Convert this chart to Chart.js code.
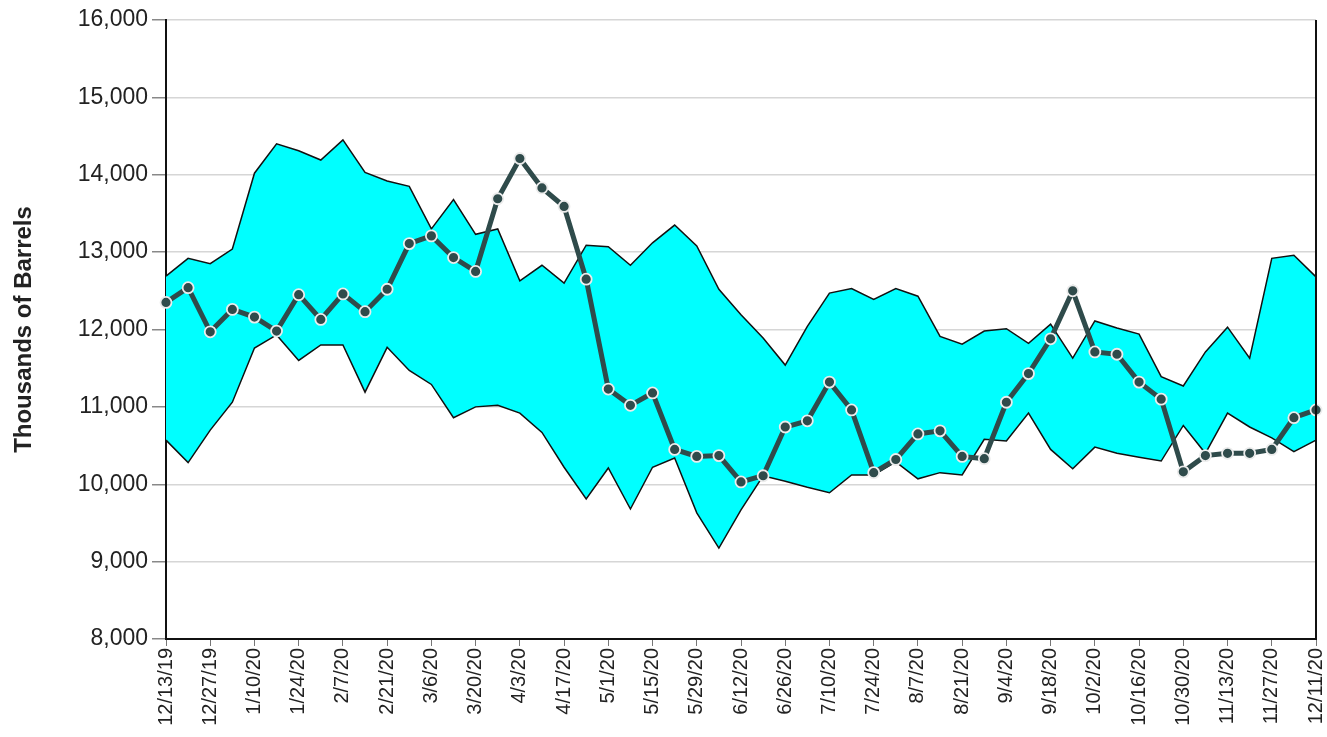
<!DOCTYPE html>
<html>
<head>
<meta charset="utf-8">
<script src="https://cdn.jsdelivr.net/npm/chart.js@4/dist/chart.umd.min.js"></script>
<style>
  html, body { margin: 0; padding: 0; background: #fff; }
  #wrap { width: 1327px; height: 737px; }
</style>
</head>
<body>
<div id="wrap"><canvas id="myChart" width="1327" height="737"></canvas></div>
<script>
// weekly dates, 12/13/19 - 12/11/20
const weeks = ['12/13/19','12/20/19','12/27/19','1/3/20','1/10/20','1/17/20','1/24/20','1/31/20','2/7/20','2/14/20','2/21/20','2/28/20','3/6/20','3/13/20','3/20/20','3/27/20','4/3/20','4/10/20','4/17/20','4/24/20','5/1/20','5/8/20','5/15/20','5/22/20','5/29/20','6/5/20','6/12/20','6/19/20','6/26/20','7/3/20','7/10/20','7/17/20','7/24/20','7/31/20','8/7/20','8/14/20','8/21/20','8/28/20','9/4/20','9/11/20','9/18/20','9/25/20','10/2/20','10/9/20','10/16/20','10/23/20','10/30/20','11/6/20','11/13/20','11/20/20','11/27/20','12/4/20','12/11/20'];

// stocks this year
const stocks = [12350,12540,11970,12260,12160,11980,12450,12130,12460,12230,12520,13110,13210,12930,12750,13690,14210,13830,13590,12650,11230,11020,11180,10450,10360,10370,10030,10110,10740,10820,11320,10960,10150,10320,10650,10690,10360,10330,11060,11430,11880,12500,11710,11680,11320,11100,10160,10370,10400,10400,10450,10860,10960];

// range top / bottom
const rangeHigh = [12690,12920,12850,13040,14020,14400,14310,14190,14450,14030,13920,13850,13300,13680,13230,13300,12630,12830,12600,13090,13070,12830,13120,13350,13080,12520,12190,11890,11540,12040,12470,12530,12390,12530,12430,11910,11810,11980,12010,11820,12070,11630,12110,12020,11940,11390,11270,11710,12030,11630,12920,12960,12680];
const rangeLow = [10570,10280,10700,11060,11760,11930,11600,11800,11800,11190,11770,11470,11290,10860,11000,11020,10920,10670,10220,9810,10210,9680,10220,10340,9630,9175,9670,10110,10040,9960,9890,10120,10120,10290,10070,10150,10120,10580,10560,10920,10450,10200,10480,10400,10350,10300,10760,10400,10920,10740,10600,10420,10570];

// right edge of the plot box
const rightBorder = {
  id: 'rightBorder',
  afterDraw(chart) {
    const { ctx, chartArea } = chart;
    ctx.save();
    ctx.strokeStyle = '#111';
    ctx.lineWidth = 2;
    ctx.beginPath();
    ctx.moveTo(chartArea.right, chartArea.top);
    ctx.lineTo(chartArea.right, chartArea.bottom);
    ctx.stroke();
    ctx.restore();
  }
};

let ctx = document.getElementById('myChart').getContext('2d');

new Chart(ctx, {
  type: 'line',
  data: {
    labels: weeks,
    datasets: [
      {
        label: 'Stocks',
        data: stocks,
        borderColor: '#2f4b4b',
        borderWidth: 5,
        pointRadius: 5.5,
        pointBackgroundColor: '#2f4b4b',
        pointBorderColor: '#ececec',
        pointBorderWidth: 1.8,
        fill: false,
        tension: 0
      },
      {
        label: 'High',
        data: rangeHigh,
        borderColor: '#111',
        borderWidth: 1.5,
        backgroundColor: '#00ffff',
        pointRadius: 0,
        fill: '+1',
        tension: 0
      },
      {
        label: 'Low',
        data: rangeLow,
        borderColor: '#111',
        borderWidth: 1.5,
        pointRadius: 0,
        fill: false,
        tension: 0
      }
    ]
  },
  options: {
    responsive: false,
    animation: false,
    layout: { padding: { top: 20, right: 11, left: 0, bottom: 0 } },
    plugins: {
      legend: { display: false },
      tooltip: { enabled: false },
      filler: { drawTime: 'beforeDatasetsDraw' }
    },
    scales: {
      x: {
        offset: false,
        grid: { drawOnChartArea: false, drawTicks: true, tickLength: 7, color: '#777' },
        border: { color: '#111', width: 2 },
        ticks: {
          autoSkip: false,
          maxRotation: 90,
          minRotation: 90,
          padding: 2,
          color: '#222',
          font: { family: 'Liberation Sans, Arial', size: 20 },
          callback: function (val, i) { return i % 2 === 0 ? weeks[i] : null; }
        },
        afterFit: function (scale) {
          scale.height = 98;
          // keep the rotated end labels from shrinking the plot
          scale.paddingLeft = 0;
          scale.paddingRight = 0;
        }
      },
      y: {
        min: 8000,
        max: 16000,
        grid: { color: '#d6d6d6', lineWidth: 1.5, tickLength: 14, tickColor: '#888' },
        border: { color: '#111', width: 2 },
        ticks: {
          stepSize: 1000,
          padding: 4,
          color: '#222',
          font: { family: 'Liberation Sans, Arial', size: 23 },
          callback: v => v.toLocaleString('en-US')
        },
        title: {
          display: true,
          text: 'Thousands of Barrels',
          color: '#222',
          padding: { top: 10, bottom: 6 },
          font: { family: 'Liberation Sans, Arial', size: 24, weight: 'bold' }
        },
        afterFit: function (scale) {
          scale.width = 166;
          scale.paddingTop = 0;
          scale.paddingBottom = 0;
        }
      }
    }
  },
  plugins: [rightBorder]
});
</script>
</body>
</html>
